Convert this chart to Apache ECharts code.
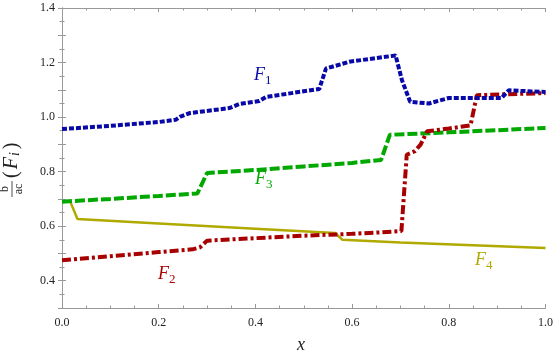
<!DOCTYPE html>
<html style="height: 100%">
<head>
    <meta charset="utf-8">
    <script src="https://cdn.jsdelivr.net/npm/echarts@6/dist/echarts.min.js"></script>
    <title>F_i curves</title>
</head>
<body style="height: 100%; margin: 0; background: #fff">
<div id="container" style="width: 556px; height: 357px"></div>
<script type="text/javascript">

    // curve samples, [x, b/ac(F)]
    let f1 = [[0, 0.956], [0.1, 0.968], [0.2, 0.982], [0.235, 0.99], [0.245, 1.002], [0.265, 1.015],
        [0.346, 1.033], [0.367, 1.048], [0.408, 1.059], [0.422, 1.074], [0.532, 1.103], [0.546, 1.178],
        [0.579, 1.195], [0.594, 1.203], [0.69, 1.226], [0.703, 1.136], [0.72, 1.056], [0.759, 1.05],
        [0.8, 1.07], [0.909, 1.07], [0.924, 1.098], [1.0, 1.092]]
    let f2 = [[0, 0.475], [0.1, 0.49], [0.2, 0.505], [0.27, 0.515], [0.285, 0.522], [0.3, 0.547],
        [0.4, 0.556], [0.5, 0.565], [0.6, 0.572], [0.656, 0.577], [0.702, 0.582], [0.713, 0.862],
        [0.73, 0.875], [0.742, 0.9], [0.755, 0.948], [0.8, 0.958], [0.845, 0.97], [0.858, 1.08],
        [0.92, 1.084], [1.0, 1.088]]
    let f3 = [[0, 0.69], [0.1, 0.7], [0.2, 0.711], [0.28, 0.72], [0.3, 0.795], [0.4, 0.806],
        [0.5, 0.819], [0.6, 0.832], [0.66, 0.843], [0.678, 0.935], [0.8, 0.944], [0.9, 0.952], [1.0, 0.96]]
    let f4 = [[0, 0.69], [0.017, 0.69], [0.032, 0.626], [0.2, 0.61], [0.4, 0.591], [0.565, 0.575],
        [0.58, 0.55], [0.7, 0.54], [0.85, 0.53], [1.0, 0.52]]

    let names = ['F1', 'F2', 'F3', 'F4']
    let colors = ['#0808a8', '#a80000', '#00a800', '#b0aa00']

    let serif = 'Liberation Serif'
    let axisGray = '#999'

    function frameAxis(extra) {
        return Object.assign({
            type: 'value',
            axisLine: {show: true, lineStyle: {color: axisGray, width: 1}},
            axisTick: {show: true, inside: true, length: 4, lineStyle: {color: axisGray}},
            minorTick: {show: true, length: 2.5, lineStyle: {color: axisGray}},
            splitLine: {show: false},
            minorSplitLine: {show: false}
        }, extra)
    }

    let xBottom = frameAxis({
        min: 0, max: 1, interval: 0.2, position: 'bottom',
        minorTick: {show: true, splitNumber: 4, length: 2.5, lineStyle: {color: axisGray}},
        axisLabel: {color: '#222', fontFamily: serif, fontSize: 12, margin: 9, formatter: v => v.toFixed(1)}
    })
    let xTop = frameAxis({
        min: 0, max: 1, interval: 0.2, position: 'top',
        minorTick: {show: true, splitNumber: 4, length: 2.5, lineStyle: {color: axisGray}},
        axisLabel: {show: false}
    })
    let yLeft = frameAxis({
        min: 0.3, max: 1.4, interval: 0.1, position: 'left',
        minorTick: {show: true, splitNumber: 2, length: 2.5, lineStyle: {color: axisGray}},
        axisLabel: {
            color: '#222', fontFamily: serif, fontSize: 12, margin: 7,
            formatter: v => (Math.round(v * 10) % 2 === 0 ? v.toFixed(1) : '')
        }
    })
    let yRight = frameAxis({
        min: 0.3, max: 1.4, interval: 0.1, position: 'right',
        minorTick: {show: true, splitNumber: 2, length: 2.5, lineStyle: {color: axisGray}},
        axisLabel: {show: false}
    })

    let styles = [
        {width: 4, type: [5, 2]},
        {width: 4, type: [9, 3, 3, 3]},
        {width: 4, type: [10, 3]},
        {width: 2.5, type: 'solid'}
    ]
    let allData = [f1, f2, f3, f4]

    let series = allData.map((d, i) => ({
        name: names[i],
        type: 'line',
        data: d,
        xAxisIndex: 0,
        yAxisIndex: 0,
        showSymbol: false,
        smooth: false,
        z: 10 - i,
        lineStyle: {color: colors[i], width: styles[i].width, type: styles[i].type, cap: 'butt'}
    }))

    function curveLabel(x, y, sub, color) {
        return {
            type: 'text', left: x, top: y, silent: true,
            style: {
                text: '{a|F}{b|' + sub + '}',
                fill: color,
                rich: {
                    a: {fontFamily: serif, fontStyle: 'italic', fontSize: 18, fill: color, verticalAlign: 'bottom'},
                    b: {fontFamily: serif, fontSize: 13, fill: color, verticalAlign: 'bottom', padding: [0, 0, -3, 0]}
                }
            }
        }
    }

    let yLabelFont = {fontFamily: serif, fill: '#222'}

    let dom = document.getElementById('container')
    let chart = echarts.init(dom, null, {renderer: 'canvas'})
    chart.setOption({
        animation: false,
        backgroundColor: '#fff',
        grid: {left: 62, right: 9, top: 8, bottom: 49, containLabel: false},
        xAxis: [xBottom, xTop],
        yAxis: [yLeft, yRight],
        series: series,
        graphic: [
            curveLabel(254, 66, '1', colors[0]),
            curveLabel(255, 170, '3', colors[2]),
            curveLabel(158, 265, '2', colors[1]),
            curveLabel(475, 251, '4', colors[3]),
            {
                type: 'text', left: 297, top: 336, silent: true,
                style: {text: 'x', font: 'italic 18px "Liberation Serif"', fill: '#222'}
            },
            {
                type: 'group', x: 12, y: 160, rotation: Math.PI / 2, silent: true,
                children: [
                    {type: 'text', x: -29, y: -7, style: Object.assign({text: 'b', font: 'italic 15px "Liberation Serif"', align: 'center', verticalAlign: 'middle'}, yLabelFont)},
                    {type: 'line', shape: {x1: -37, y1: 0, x2: -21, y2: 0}, style: {stroke: '#222', lineWidth: 0.8}},
                    {type: 'text', x: -29, y: 7, style: Object.assign({text: 'ac', font: '13px "Liberation Serif"', align: 'center', verticalAlign: 'middle'}, yLabelFont)},
                    {type: 'text', x: -19, y: 0, style: {
                        text: '{p|(}{f|F}{i|i}{p|)}', fill: '#222', verticalAlign: 'middle',
                        rich: {
                            p: {fontFamily: serif, fontSize: 20, fill: '#222', padding: [0, 1, 0, 1]},
                            f: {fontFamily: serif, fontStyle: 'italic', fontSize: 20, fill: '#222', padding: [0, 1, 0, 1]},
                            i: {fontFamily: serif, fontStyle: 'italic', fontSize: 14, fill: '#222', padding: [7, 2, 0, 0]}
                        }
                    }}
                ]
            }
        ]
    }, true)

</script>
</body>
</html>
